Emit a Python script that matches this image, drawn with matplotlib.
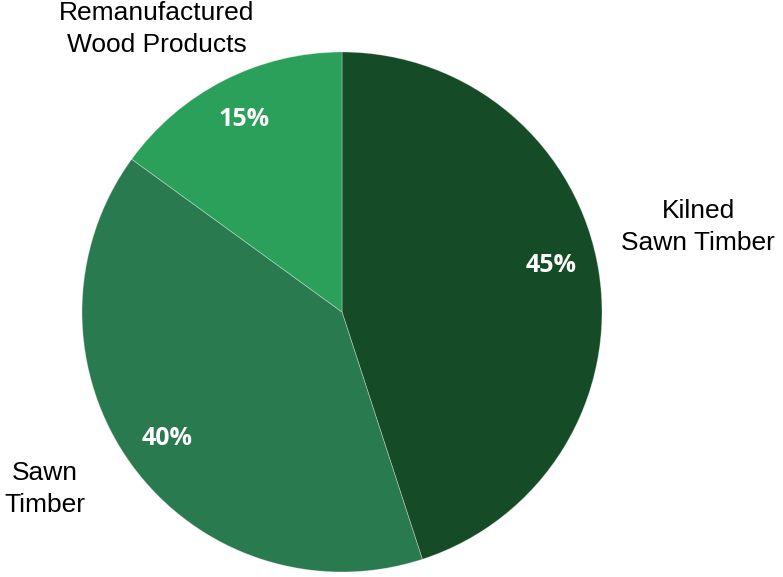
import matplotlib.pyplot as plt

labels = ['Kilned\nSawn Timber', 'Sawn\nTimber', 'Remanufactured\nWood Products']
shares = [45, 40, 15]
colors = ['#154b27', '#2a7a50', '#2aa05a']
# label anchor points in pixels (x, y from top)
label_pos = [(698, 227), (45, 489), (157, 29)]

W, H = 783, 577
fig = plt.figure(figsize=(W / 100, H / 100), dpi=100)
ax = fig.add_axes([0, 0, 1, 1])

wedges, texts, autotexts = ax.pie(
    shares, colors=colors, startangle=90, counterclock=False,
    center=(342, H - 312), radius=260, frame=True,
    autopct='%d%%', pctdistance=0.83,
    wedgeprops=dict(edgecolor=(1, 1, 1, 0.35), linewidth=0.6),
    textprops=dict(color='white', fontsize=18, fontweight='bold', family='Open Sans'),
)
ax.set_xlim(0, W)
ax.set_ylim(0, H)
ax.set_aspect('equal')
ax.axis('off')

# Excel places the 45% label a little above the slice middle
autotexts[0].set_position((551, H - 266))

for lab, (x, y) in zip(labels, label_pos):
    ax.text(x, H - y, lab, ha='center', va='center', fontsize=19,
            family='Liberation Sans', color='black', linespacing=1.42)

plt.savefig('out.png', dpi=100)
